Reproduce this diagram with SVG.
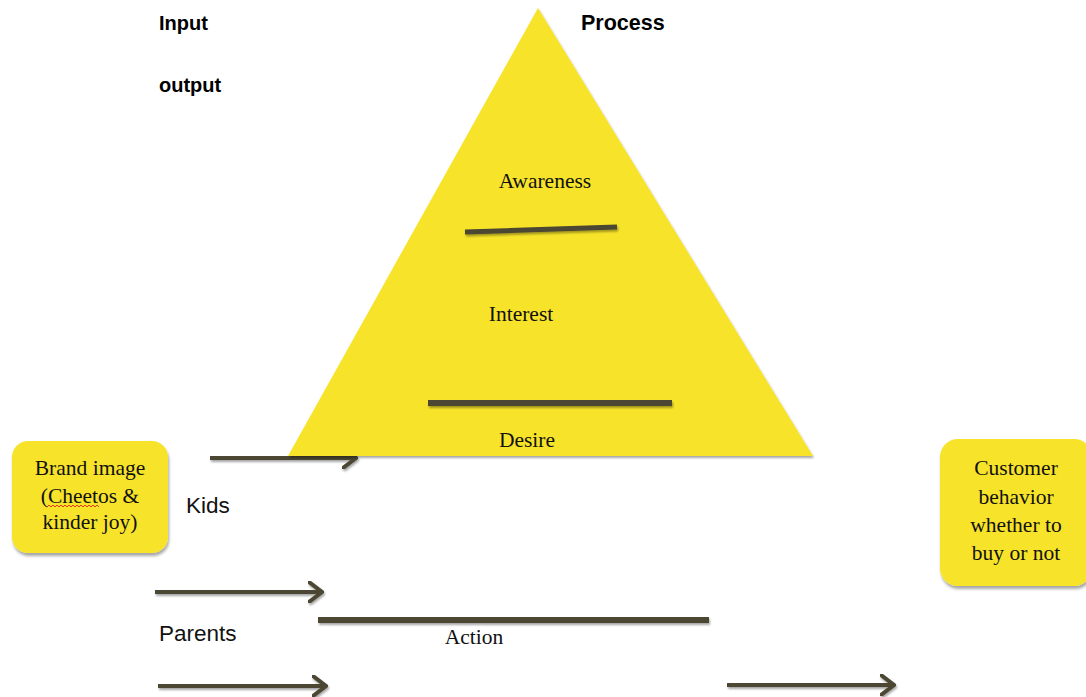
<svg xmlns="http://www.w3.org/2000/svg" width="1086" height="697" viewBox="0 0 1086 697">
<defs>
<filter id="sh" filterUnits="userSpaceOnUse" x="0" y="0" width="1086" height="697">
<feDropShadow dx="1" dy="2" stdDeviation="1.2" flood-color="#000" flood-opacity="0.35"/>
</filter>
<filter id="bsh" x="-10%" y="-10%" width="125%" height="125%">
<feDropShadow dx="1" dy="3" stdDeviation="1.5" flood-color="#000" flood-opacity="0.35"/>
</filter>
<marker id="chev" viewBox="0 0 16 22" refX="14" refY="11" markerWidth="16" markerHeight="22" markerUnits="userSpaceOnUse" orient="auto">
<path d="M1,1 L14,11 L1,21" fill="none" stroke="#4b4731" stroke-width="4" stroke-linecap="round" stroke-linejoin="miter"/>
</marker>
</defs>
<style>
.ln{stroke:#4b4731;fill:none;stroke-linecap:butt}
.arr{stroke:#4b4731;stroke-width:4;fill:none}
.tri{fill:#f7e42a}
.box{fill:#f7e42a}
.serif{font-family:"Liberation Serif","Times New Roman",serif;font-size:21.5px;fill:#111}
.sans{font-family:"Liberation Sans",Arial,sans-serif;font-size:22.5px;fill:#111}
.hd{font-family:"Liberation Sans",Arial,sans-serif;font-weight:bold;font-size:20px;fill:#000}
</style>
<rect width="1086" height="697" fill="#fff"/>

<g id="connectors">
<line class="arr" x1="210" y1="458" x2="356" y2="458" marker-end="url(#chev)" filter="url(#sh)"/>
<line class="arr" x1="155" y1="592" x2="322" y2="592" marker-end="url(#chev)" filter="url(#sh)"/>
<line class="arr" x1="158" y1="686" x2="326" y2="686" marker-end="url(#chev)" filter="url(#sh)"/>
<line class="arr" x1="727" y1="685" x2="894" y2="685" marker-end="url(#chev)" filter="url(#sh)"/>
</g>

<g id="pyramid">
<polygon class="tri" points="538,8 288,456 813,456" filter="url(#sh)"/>
<line class="ln" x1="465" y1="232" x2="617" y2="227" stroke-width="5" filter="url(#sh)"/>
<line class="ln" x1="428" y1="403" x2="672" y2="403" stroke-width="6" filter="url(#sh)"/>
<text class="serif" x="545" y="188" text-anchor="middle">Awareness</text>
<text class="serif" x="521" y="321" text-anchor="middle">Interest</text>
<text class="serif" x="527" y="447" text-anchor="middle">Desire</text>
</g>

<g id="action">
<line class="ln" x1="318" y1="620" x2="709" y2="620" stroke-width="6" filter="url(#sh)"/>
<text class="serif" x="474" y="644" text-anchor="middle">Action</text>
</g>

<g id="headers">
<text class="hd" x="159" y="30">Input</text>
<text class="hd" x="159" y="92">output</text>
<text class="hd" x="581" y="30" style="font-size:21.5px">Process</text>
</g>

<g id="labels">
<text class="sans" x="186" y="513">Kids</text>
<text class="sans" x="159" y="641">Parents</text>
</g>

<g id="brand-image">
<rect class="box" x="12" y="441" width="156" height="112" rx="16" filter="url(#bsh)"/>
<text class="serif" x="90" y="475" text-anchor="middle">Brand image</text>
<text class="serif" x="90" y="503" text-anchor="middle">(Cheetos &amp;</text>
<text class="serif" x="90" y="529" text-anchor="middle">kinder joy)</text>
<path d="M47,507 l2,-2 l2,2 l2,-2 l2,2 l2,-2 l2,2 l2,-2 l2,2 l2,-2 l2,2 l2,-2 l2,2 l2,-2 l2,2 l2,-2 l2,2 l2,-2 l2,2 l2,-2 l2,2 l2,-2 l2,2 l2,-2 l2,2 l2,-2 l2,2" fill="none" stroke="#e02020" stroke-width="0.9"/>
</g>

<g id="customer-behavior">
<rect class="box" x="940" y="439" width="152" height="147" rx="18" filter="url(#bsh)"/>
<text class="serif" x="1016" y="475" text-anchor="middle">Customer</text>
<text class="serif" x="1016" y="504" text-anchor="middle">behavior</text>
<text class="serif" x="1016" y="532" text-anchor="middle">whether to</text>
<text class="serif" x="1016" y="560" text-anchor="middle">buy or not</text>
</g>
</svg>
